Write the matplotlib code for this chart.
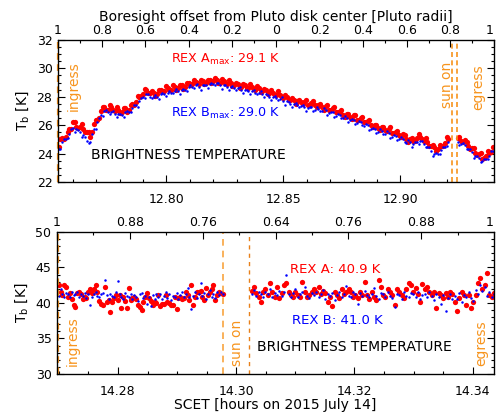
import numpy as np
import matplotlib
matplotlib.use("Agg")
from matplotlib import pyplot as plt
from matplotlib.ticker import MultipleLocator, FixedLocator

# ---- top panel: Pluto occultation, REX brightness temperature ----
# samples on a 0.0015 h cadence; "b" lists sit half a step later
top_seg1_start, top_seg1_end = 12.7540, 12.9205
top_seg2_start, top_seg2_end = 12.9245, 12.9395
top_half_step = 0.00075

rex_a_top1 = [24.5, 25.1, 25.2, 25.7, 26.2, 25.9, 25.9, 25.7, 25.5, 25.2,
              26.1, 26.4, 27.0, 27.3, 27.1, 27.3, 27.0, 27.1, 26.95, 27.2,
              27.1, 27.5, 27.6, 28.0, 28.2, 28.5, 28.3, 28.3, 28.2, 28.5,
              28.4, 28.6, 28.5, 28.7, 28.6, 28.8, 28.7, 29.0, 28.9, 29.05,
              28.9, 29.1, 29.0, 29.2, 29.1, 29.2, 29.0, 29.1, 28.9, 29.0,
              28.8, 28.9, 28.7, 28.8, 28.6, 28.7, 28.5, 28.6, 28.4, 28.5,
              28.3, 28.25, 28.1, 28.15, 27.9, 27.95, 27.8, 27.75, 27.7, 27.6,
              27.6, 27.45, 27.55, 27.4, 27.45, 27.3, 27.35, 27.1, 27.2, 26.9,
              26.95, 26.75, 26.8, 26.6, 26.7, 26.4, 26.5, 26.2, 26.3, 26.0,
              26.0, 25.8, 25.9, 25.65, 25.75, 25.45, 25.55, 25.3, 25.35, 25.0,
              25.05, 24.9, 25.1, 25.2, 24.9, 24.85, 24.55, 24.45, 24.3, 24.55,
              24.75, 25.05]
rex_a_top1b = [25.0, 25.0, 25.55, 25.75, 26.2, 25.8, 26.05, 25.55, 25.55, 25.5,
               26.35, 26.5, 27.3, 27.1, 27.45, 27.1, 27.25, 26.85, 27.2, 26.95,
               27.45, 27.45, 28.05, 28.05, 28.55, 28.25, 28.4, 28.05, 28.5, 28.35,
               28.75, 28.5, 28.8, 28.5, 28.8, 28.55, 29.0, 28.85, 29.2, 28.95,
               29.2, 28.9, 29.2, 28.95, 29.3, 29.0, 29.25, 28.95, 29.15, 28.75,
               28.95, 28.6, 28.9, 28.6, 28.9, 28.55, 28.75, 28.35, 28.55, 28.2,
               28.45, 28.1, 28.4, 28.0, 28.1, 27.75, 27.9, 27.5, 27.8, 27.5,
               27.8, 27.45, 27.7, 27.3, 27.5, 27.1, 27.4, 27.05, 27.3, 26.9,
               27.05, 26.6, 26.8, 26.45, 26.7, 26.35, 26.6, 26.2, 26.35, 25.85,
               26.0, 25.65, 25.9, 25.6, 25.85, 25.45, 25.6, 25.2, 25.3, 24.85,
               25.1, 24.9, 25.4, 25.0, 25.1, 24.55, 24.6, 24.2, 24.6, 24.55,
               25.15]
rex_a_top2 = [25.1, 24.9, 24.95, 24.55, 24.4, 24.05, 23.95, 23.65, 23.85, 24.05, 24.45]
rex_a_top2b = [25.2, 24.8, 24.85, 24.3, 24.4, 23.9, 24.05, 23.7, 24.15, 24.1]

rex_b_top1 = [24.3, 24.8, 25.0, 25.4, 25.8, 25.7, 25.5, 25.3, 24.9, 24.8,
              25.7, 26.2, 26.7, 27.0, 26.9, 26.9, 26.8, 26.8, 26.7, 26.9,
              26.9, 27.2, 27.4, 27.7, 28.0, 28.2, 28.0, 28.0, 28.0, 28.2,
              28.2, 28.3, 28.3, 28.4, 28.4, 28.5, 28.5, 28.7, 28.7, 28.8,
              28.7, 28.8, 28.8, 28.9, 28.9, 28.95, 28.8, 28.8, 28.7, 28.7,
              28.6, 28.6, 28.5, 28.5, 28.4, 28.4, 28.3, 28.3, 28.2, 28.2,
              28.0, 28.0, 27.9, 27.85, 27.7, 27.7, 27.5, 27.5, 27.4, 27.35,
              27.3, 27.2, 27.25, 27.1, 27.15, 27.0, 27.05, 26.85, 26.9, 26.65,
              26.7, 26.5, 26.5, 26.35, 26.4, 26.15, 26.2, 25.95, 26.0, 25.75,
              25.75, 25.55, 25.6, 25.4, 25.45, 25.2, 25.25, 25.05, 25.05, 24.75,
              24.8, 24.65, 24.8, 24.9, 24.65, 24.5, 24.2, 24.0, 24.0, 24.25,
              24.5, 24.8]
rex_b_top1b = [24.35, 25.0, 25.1, 25.75, 25.5, 25.65, 25.2, 25.2, 24.75, 25.4,
               25.7, 26.5, 26.65, 27.05, 26.8, 27.0, 26.55, 26.8, 26.6, 27.0,
               26.95, 27.45, 27.3, 27.9, 27.9, 28.2, 27.9, 28.15, 27.85, 28.25,
               28.05, 28.4, 28.25, 28.55, 28.2, 28.55, 28.4, 28.8, 28.65, 28.9,
               28.5, 28.85, 28.65, 29.0, 28.85, 29.0, 28.55, 28.8, 28.5, 28.75,
               28.5, 28.7, 28.25, 28.5, 28.2, 28.45, 28.2, 28.4, 27.95, 28.15,
               27.8, 28.05, 27.8, 27.95, 27.45, 27.65, 27.3, 27.55, 27.3, 27.45,
               27.0, 27.3, 27.0, 27.25, 27.0, 27.2, 26.7, 26.9, 26.6, 26.8,
               26.5, 26.65, 26.2, 26.45, 26.1, 26.3, 26.0, 26.1, 25.65, 25.8,
               25.45, 25.7, 25.4, 25.6, 25.1, 25.3, 24.95, 25.15, 24.8, 24.95,
               24.5, 24.8, 24.65, 24.9, 24.5, 24.5, 23.85, 24.05, 23.95, 24.5,
               24.55]
rex_b_top2 = [24.85, 24.7, 24.6, 24.3, 24.1, 23.8, 23.7, 23.45, 23.6, 23.85, 24.2]
rex_b_top2b = [24.6, 24.75, 24.35, 24.35, 23.7, 23.8, 23.4, 23.6, 23.6, 24.2]

top_ingress, top_sun_on = 12.7537, [12.922, 12.924]
top_xlim = (12.7537, 12.9400)
top_radii_labels = ["1", "0.8", "0.6", "0.4", "0.2", "0", "0.2", "0.4", "0.6", "0.8", "1"]

# ---- bottom panel: Charon occultation ----
bot_seg1_start, bot_seg1_end = 14.2700, 14.2977
bot_seg2_start, bot_seg2_end = 14.3026, 14.3436

rex_a_bot1 = [42.6, 41.6, 41.1, 42.5, 42.2, 40.9, 41.4, 40.6, 39.7, 39.5,
              41.4, 41.5, 41.2, 40.6, 40.9, 40.7, 41.6, 41.9, 41.4, 42.0,
              42.6, 41.6, 40.3, 39.8, 39.7, 42.3, 40.2, 40.4, 38.7, 40.2,
              40.7, 41.1, 40.4, 41.1, 39.3, 40.8, 40.3, 39.3, 42.1, 40.4,
              40.7, 40.8, 40.6, 39.7, 39.5, 39.0, 40.2, 40.8, 41.4, 40.7,
              40.3, 39.7, 40.2, 40.0, 41.1, 39.6, 39.8, 39.8, 41.1, 40.2,
              40.0, 39.7, 39.7, 40.8, 39.2, 40.7, 40.9, 40.6, 40.7, 41.6,
              41.1, 40.4, 42.6, 39.7, 40.9, 41.6, 41.5, 41.7, 40.9, 40.4,
              42.1, 41.1, 41.6, 41.9, 42.6, 40.4, 41.1, 41.6, 41.4, 41.2]
rex_a_bot2 = [41.7, 42.2, 41.4, 40.8, 40.1, 41.6, 41.9, 41.1, 42.8, 41.6,
              40.9, 42.2, 40.7, 41.4, 42.6, 42.8, 41.6, 41.1, 40.8, 41.5,
              41.1, 40.9, 43.0, 41.6, 40.8, 41.1, 41.5, 41.9, 41.6, 42.3,
              41.2, 41.7, 41.4, 40.2, 40.8, 39.6, 41.6, 41.1, 40.7, 41.9,
              41.2, 41.6, 42.0, 41.5, 40.8, 41.1, 40.7, 41.6, 41.1, 43.0,
              41.1, 40.6, 41.6, 40.9, 40.4, 43.3, 42.3, 41.1, 40.8, 42.0,
              41.6, 41.1, 39.7, 41.9, 41.6, 41.1, 40.7, 41.9, 42.8, 42.5,
              41.6, 42.1, 41.2, 40.2, 42.7, 41.9, 42.3, 41.5, 41.1, 41.6,
              39.3, 41.4, 41.1, 40.7, 41.4, 40.8, 41.6, 41.2, 40.2, 38.9,
              40.7, 41.6, 41.1, 39.7, 41.1, 39.3, 40.2, 41.1, 42.8, 43.5,
              41.9, 42.6, 44.2, 41.1, 40.9, 41.4]

rex_b_bot1 = [41.0, 41.9, 41.3, 40.9, 41.4, 41.2, 40.8, 41.5, 41.1, 41.3,
              41.6, 40.9, 41.2, 41.0, 41.4, 40.7, 41.2, 39.7, 40.8, 41.3,
              41.5, 41.0, 40.9, 41.2, 41.4, 43.3, 41.1, 40.6, 41.3, 41.0,
              40.8, 41.6, 43.1, 41.2, 40.9, 40.6, 41.4, 41.0, 40.8, 41.3,
              40.5, 41.1, 40.9, 40.3, 41.2, 41.4, 40.7, 41.0, 39.9, 40.8,
              39.6, 41.1, 40.6, 41.3, 40.8, 41.2, 40.5, 41.0, 41.5, 40.7,
              41.2, 40.4, 41.0, 40.8, 41.4, 40.6, 41.1, 41.5, 40.9, 41.3,
              42.1, 40.8, 39.2, 41.0, 41.6, 40.7, 41.2, 42.8, 41.0, 41.4,
              40.6, 41.2, 41.8, 40.9, 41.3, 40.7, 41.5, 41.1, 41.6, 41.3]
rex_b_bot2 = [41.3, 41.8, 41.0, 41.5, 41.2, 40.8, 41.6, 41.3, 41.9, 40.9,
              41.4, 41.1, 41.7, 41.0, 41.5, 43.9, 41.2, 40.8, 41.4, 41.9,
              40.9, 41.3, 41.6, 42.2, 41.0, 40.7, 41.4, 41.1, 41.5, 40.9,
              41.3, 41.8, 40.6, 41.2, 41.0, 41.4, 40.4, 41.1, 41.6, 40.9,
              41.3, 42.4, 41.0, 40.8, 41.5, 41.2, 39.8, 41.4, 41.0, 41.7,
              41.1, 40.9, 41.3, 42.1, 41.0, 40.6, 41.4, 41.2, 40.8, 41.5,
              41.0, 40.7, 39.5, 41.3, 41.1, 40.5, 41.6, 41.0, 40.8, 41.4,
              41.2, 40.9, 41.5, 40.6, 41.1, 41.3, 40.8, 41.6, 41.0, 40.4,
              41.2, 40.9, 39.8, 41.1, 38.9, 40.7, 41.3, 40.5, 41.0, 40.6,
              41.4, 40.2, 41.1, 40.9, 41.5, 40.7, 40.3, 41.8, 41.2, 42.6,
              41.7, 42.2, 41.0, 41.5, 40.8, 41.3]

bot_ingress, bot_sun_on, bot_egress = 14.2698, 14.2977, 14.3022
bot_xlim = (14.2697, 14.3436)
bot_radii_labels = ["1", "0.88", "0.76", "0.64", "0.76", "0.88", "1"]

RED = "#ff0000"
BLUE = "#0000ff"
ORANGE = "#f7941d"
FS = 9          # tick labels
FS_LAB = 10     # axis labels, titles, big annotations
RED_MS, BLUE_MS = 3.8, 1.8


def draw_series(ax, segments):
    for t0, t1, vals, color, ms in segments:
        t = np.linspace(t0, t1, len(vals))
        ax.plot(t, vals, "o", color=color, ms=ms, mew=0, ls="none")


def style_axis(ax):
    ax.tick_params(which="both", direction="in", top=False, right=True,
                   labelsize=FS, width=0.8, pad=4)
    ax.tick_params(which="major", length=5)
    ax.tick_params(which="minor", length=2.5)
    for s in ax.spines.values():
        s.set_linewidth(0.9)


def radii_axis(ax, labels):
    top = ax.twiny()
    top.set_xlim(ax.get_xlim())
    pos = np.linspace(ax.get_xlim()[0], ax.get_xlim()[1], len(labels))
    top.xaxis.set_major_locator(FixedLocator(pos))
    top.xaxis.set_minor_locator(FixedLocator((pos[:-1] + pos[1:]) / 2))
    top.set_xticklabels(labels)
    top.get_xticklabels()[-1].set_ha("right")
    top.tick_params(which="both", direction="in", labelsize=FS, width=0.8, pad=2)
    top.tick_params(which="major", length=5)
    top.tick_params(which="minor", length=2.5)
    return top


fig = plt.figure(figsize=(4.96, 4.19), dpi=100)
ax1 = fig.add_axes([0.117, 0.5656, 0.879, 0.339])
ax2 = fig.add_axes([0.115, 0.1074, 0.881, 0.339])

# top panel
h = top_half_step
draw_series(ax1, [
    (top_seg1_start, top_seg1_end, rex_a_top1, RED, RED_MS),
    (top_seg1_start + h, top_seg1_end - h, rex_a_top1b, RED, RED_MS),
    (top_seg2_start, top_seg2_end, rex_a_top2, RED, RED_MS),
    (top_seg2_start + h, top_seg2_end - h, rex_a_top2b, RED, RED_MS),
    (top_seg1_start, top_seg1_end, rex_b_top1, BLUE, BLUE_MS),
    (top_seg1_start + h, top_seg1_end - h, rex_b_top1b, BLUE, BLUE_MS),
    (top_seg2_start, top_seg2_end, rex_b_top2, BLUE, BLUE_MS),
    (top_seg2_start + h, top_seg2_end - h, rex_b_top2b, BLUE, BLUE_MS),
])
ax1.set_xlim(*top_xlim)
ax1.set_ylim(22, 32)
ax1.xaxis.set_major_locator(FixedLocator([12.80, 12.85, 12.90]))
ax1.xaxis.set_minor_locator(MultipleLocator(0.01))
ax1.yaxis.set_major_locator(MultipleLocator(2))
ax1.yaxis.set_minor_locator(MultipleLocator(0.5))
ax1.set_xticklabels(["12.80", "12.85", "12.90"])
style_axis(ax1)
ax1.tick_params(axis="x", pad=8)
ax1.set_ylabel(r"T$_{\rm b}$ [K]", fontsize=FS_LAB, labelpad=4)
ax1.axvline(top_ingress, color=ORANGE, ls=(0, (3, 2)), lw=1.6, clip_on=False)
for xs in top_sun_on:
    ax1.axvline(xs, color=ORANGE, ls=(0, (3, 2)), lw=1.2)
ax1.text(12.7603, 30.5, "ingress", color=ORANGE, rotation=90, ha="center",
         va="top", fontsize=FS_LAB)
ax1.text(12.9200, 30.5, "sun on", color=ORANGE, rotation=90, ha="center",
         va="top", fontsize=FS_LAB)
ax1.text(12.9332, 30.3, "egress", color=ORANGE, rotation=90, ha="center",
         va="top", fontsize=FS_LAB)
ax1.text(12.8255, 30.6, r"REX A$_{\rm max}$: 29.1 K", color=RED, ha="center",
         va="center", fontsize=9.2)
ax1.text(12.8255, 26.85, r"REX B$_{\rm max}$: 29.0 K", color=BLUE, ha="center",
         va="center", fontsize=9.2)
ax1.text(12.7680, 23.9, "BRIGHTNESS TEMPERATURE", color="black", ha="left",
         va="center", fontsize=FS_LAB)
top1 = radii_axis(ax1, top_radii_labels)
top1.set_xlabel("Boresight offset from Pluto disk center [Pluto radii]",
                fontsize=FS_LAB, labelpad=2)

# bottom panel
draw_series(ax2, [
    (bot_seg1_start, bot_seg1_end, rex_a_bot1, RED, RED_MS),
    (bot_seg2_start, bot_seg2_end, rex_a_bot2, RED, RED_MS),
    (bot_seg1_start, bot_seg1_end, rex_b_bot1, BLUE, BLUE_MS),
    (bot_seg2_start, bot_seg2_end, rex_b_bot2, BLUE, BLUE_MS),
])
ax2.set_xlim(*bot_xlim)
ax2.set_ylim(30, 50)
ax2.xaxis.set_major_locator(FixedLocator([14.28, 14.30, 14.32, 14.34]))
ax2.xaxis.set_minor_locator(MultipleLocator(0.005))
ax2.yaxis.set_major_locator(MultipleLocator(5))
ax2.yaxis.set_minor_locator(MultipleLocator(1))
ax2.set_xticklabels(["14.28", "14.30", "14.32", "14.34"])
style_axis(ax2)
ax2.tick_params(axis="x", pad=8)
ax2.set_ylabel(r"T$_{\rm b}$ [K]", fontsize=FS_LAB, labelpad=4)
ax2.set_xlabel("SCET [hours on 2015 July 14]", fontsize=FS_LAB, labelpad=0)
ax2.axvline(bot_ingress, color=ORANGE, ls=(0, (3, 2)), lw=1.6, clip_on=False)
ax2.axvline(bot_sun_on, color=ORANGE, ls=(0, (4, 3)), lw=1.2, alpha=0.85)
ax2.axvline(bot_egress, color="#e8801a", ls=(0, (3, 3)), lw=1.0)
ax2.text(14.2723, 31.15, "ingress", color=ORANGE, rotation=90, ha="center",
         va="bottom", fontsize=FS_LAB)
ax2.text(14.3002, 31.15, "sun on", color=ORANGE, rotation=90, ha="center",
         va="bottom", fontsize=FS_LAB)
ax2.text(14.3415, 31.15, "egress", color=ORANGE, rotation=90, ha="center",
         va="bottom", fontsize=FS_LAB)
ax2.text(14.3167, 44.65, "REX A: 40.9 K", color=RED, ha="center",
         va="center", fontsize=9.5)
ax2.text(14.3171, 37.55, "REX B: 41.0 K", color=BLUE, ha="center",
         va="center", fontsize=9.5)
ax2.text(14.3035, 33.75, "BRIGHTNESS TEMPERATURE", color="black", ha="left",
         va="center", fontsize=FS_LAB)
radii_axis(ax2, bot_radii_labels)

fig.savefig("out.png", dpi=100)
